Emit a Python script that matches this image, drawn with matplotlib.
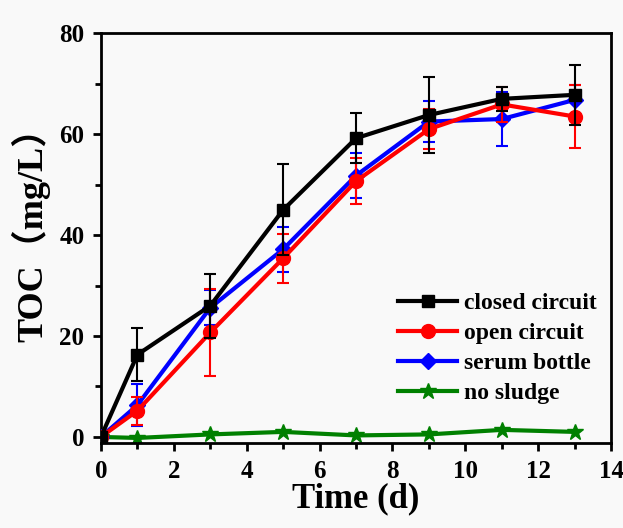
import matplotlib
matplotlib.use("Agg")
import matplotlib.pyplot as plt
from matplotlib.ticker import MultipleLocator

plt.rcParams["font.family"] = ["Liberation Serif", "Noto Sans CJK SC"]
plt.rcParams["font.weight"] = "bold"

# data
days = [0, 1, 3, 5, 7, 9, 11, 13]
closed = [0, 16.3, 26.0, 45.0, 59.2, 63.8, 67.0, 67.8]
closed_err = [0, 5.3, 6.3, 9.0, 5.0, 7.5, 2.4, 6.0]
opened = [0, 5.2, 20.7, 35.4, 50.7, 61.0, 65.9, 63.5]
opened_err = [0, 2.8, 8.7, 4.8, 4.5, 4.0, 3.5, 6.2]
serum = [0, 6.3, 25.6, 37.2, 51.8, 62.5, 63.0, 66.8]
serum_err = [0, 4.2, 3.5, 4.5, 4.5, 4.0, 5.3, 3.0]
nosludge = [0, -0.2, 0.5, 1.0, 0.3, 0.5, 1.4, 1.0]
labels = ["closed circuit", "open circuit", "serum bottle", "no sludge"]

fig = plt.figure(figsize=(6.23, 5.28), dpi=100, facecolor="#f9f9f9")
ax = fig.add_axes([0.162, 0.161, 0.819, 0.776], facecolor="#f9f9f9")

ax.errorbar(days, nosludge, color="green", marker="*", ms=12, lw=3,
            label=labels[3], zorder=2)
ax.errorbar(days, serum, yerr=serum_err, color="blue", marker="D", ms=8, lw=3,
            elinewidth=1.5, capsize=4, capthick=1.5, label=labels[2], zorder=3)
ax.errorbar(days, opened, yerr=opened_err, color="red", marker="o", ms=10, lw=3,
            elinewidth=1.5, capsize=4, capthick=1.5, label=labels[1], zorder=4)
ax.errorbar(days, closed, yerr=closed_err, color="black", marker="s", ms=8, lw=3,
            elinewidth=1.5, capsize=4, capthick=1.5, label=labels[0], zorder=5)

ax.set_xlim(0, 14)
ax.set_ylim(-1.2, 80)
ax.xaxis.set_major_locator(MultipleLocator(2))
ax.xaxis.set_minor_locator(MultipleLocator(1))
ax.yaxis.set_major_locator(MultipleLocator(20))
ax.yaxis.set_minor_locator(MultipleLocator(10))
ax.tick_params(which="major", direction="out", length=6, width=2, labelsize=18, pad=6)
ax.tick_params(which="minor", direction="out", length=4, width=2)
for s in ax.spines.values():
    s.set_linewidth(2)

ax.set_xlabel("Time (d)", fontsize=25, fontweight="bold", labelpad=0)
ax.set_ylabel("TOC（mg/L）", fontsize=26, fontweight="bold")
ax.yaxis.set_label_coords(-0.1, 0.53)

h, l = ax.get_legend_handles_labels()
h = [x[0] for x in h][::-1]
leg = ax.legend(h, l[::-1], loc="lower right", frameon=False, fontsize=17,
                handlelength=2.5, handletextpad=0.3, labelspacing=0.36,
                borderaxespad=0.2, bbox_to_anchor=(1.0, 0.06))

fig.savefig("out.png", dpi=100, facecolor=fig.get_facecolor())
